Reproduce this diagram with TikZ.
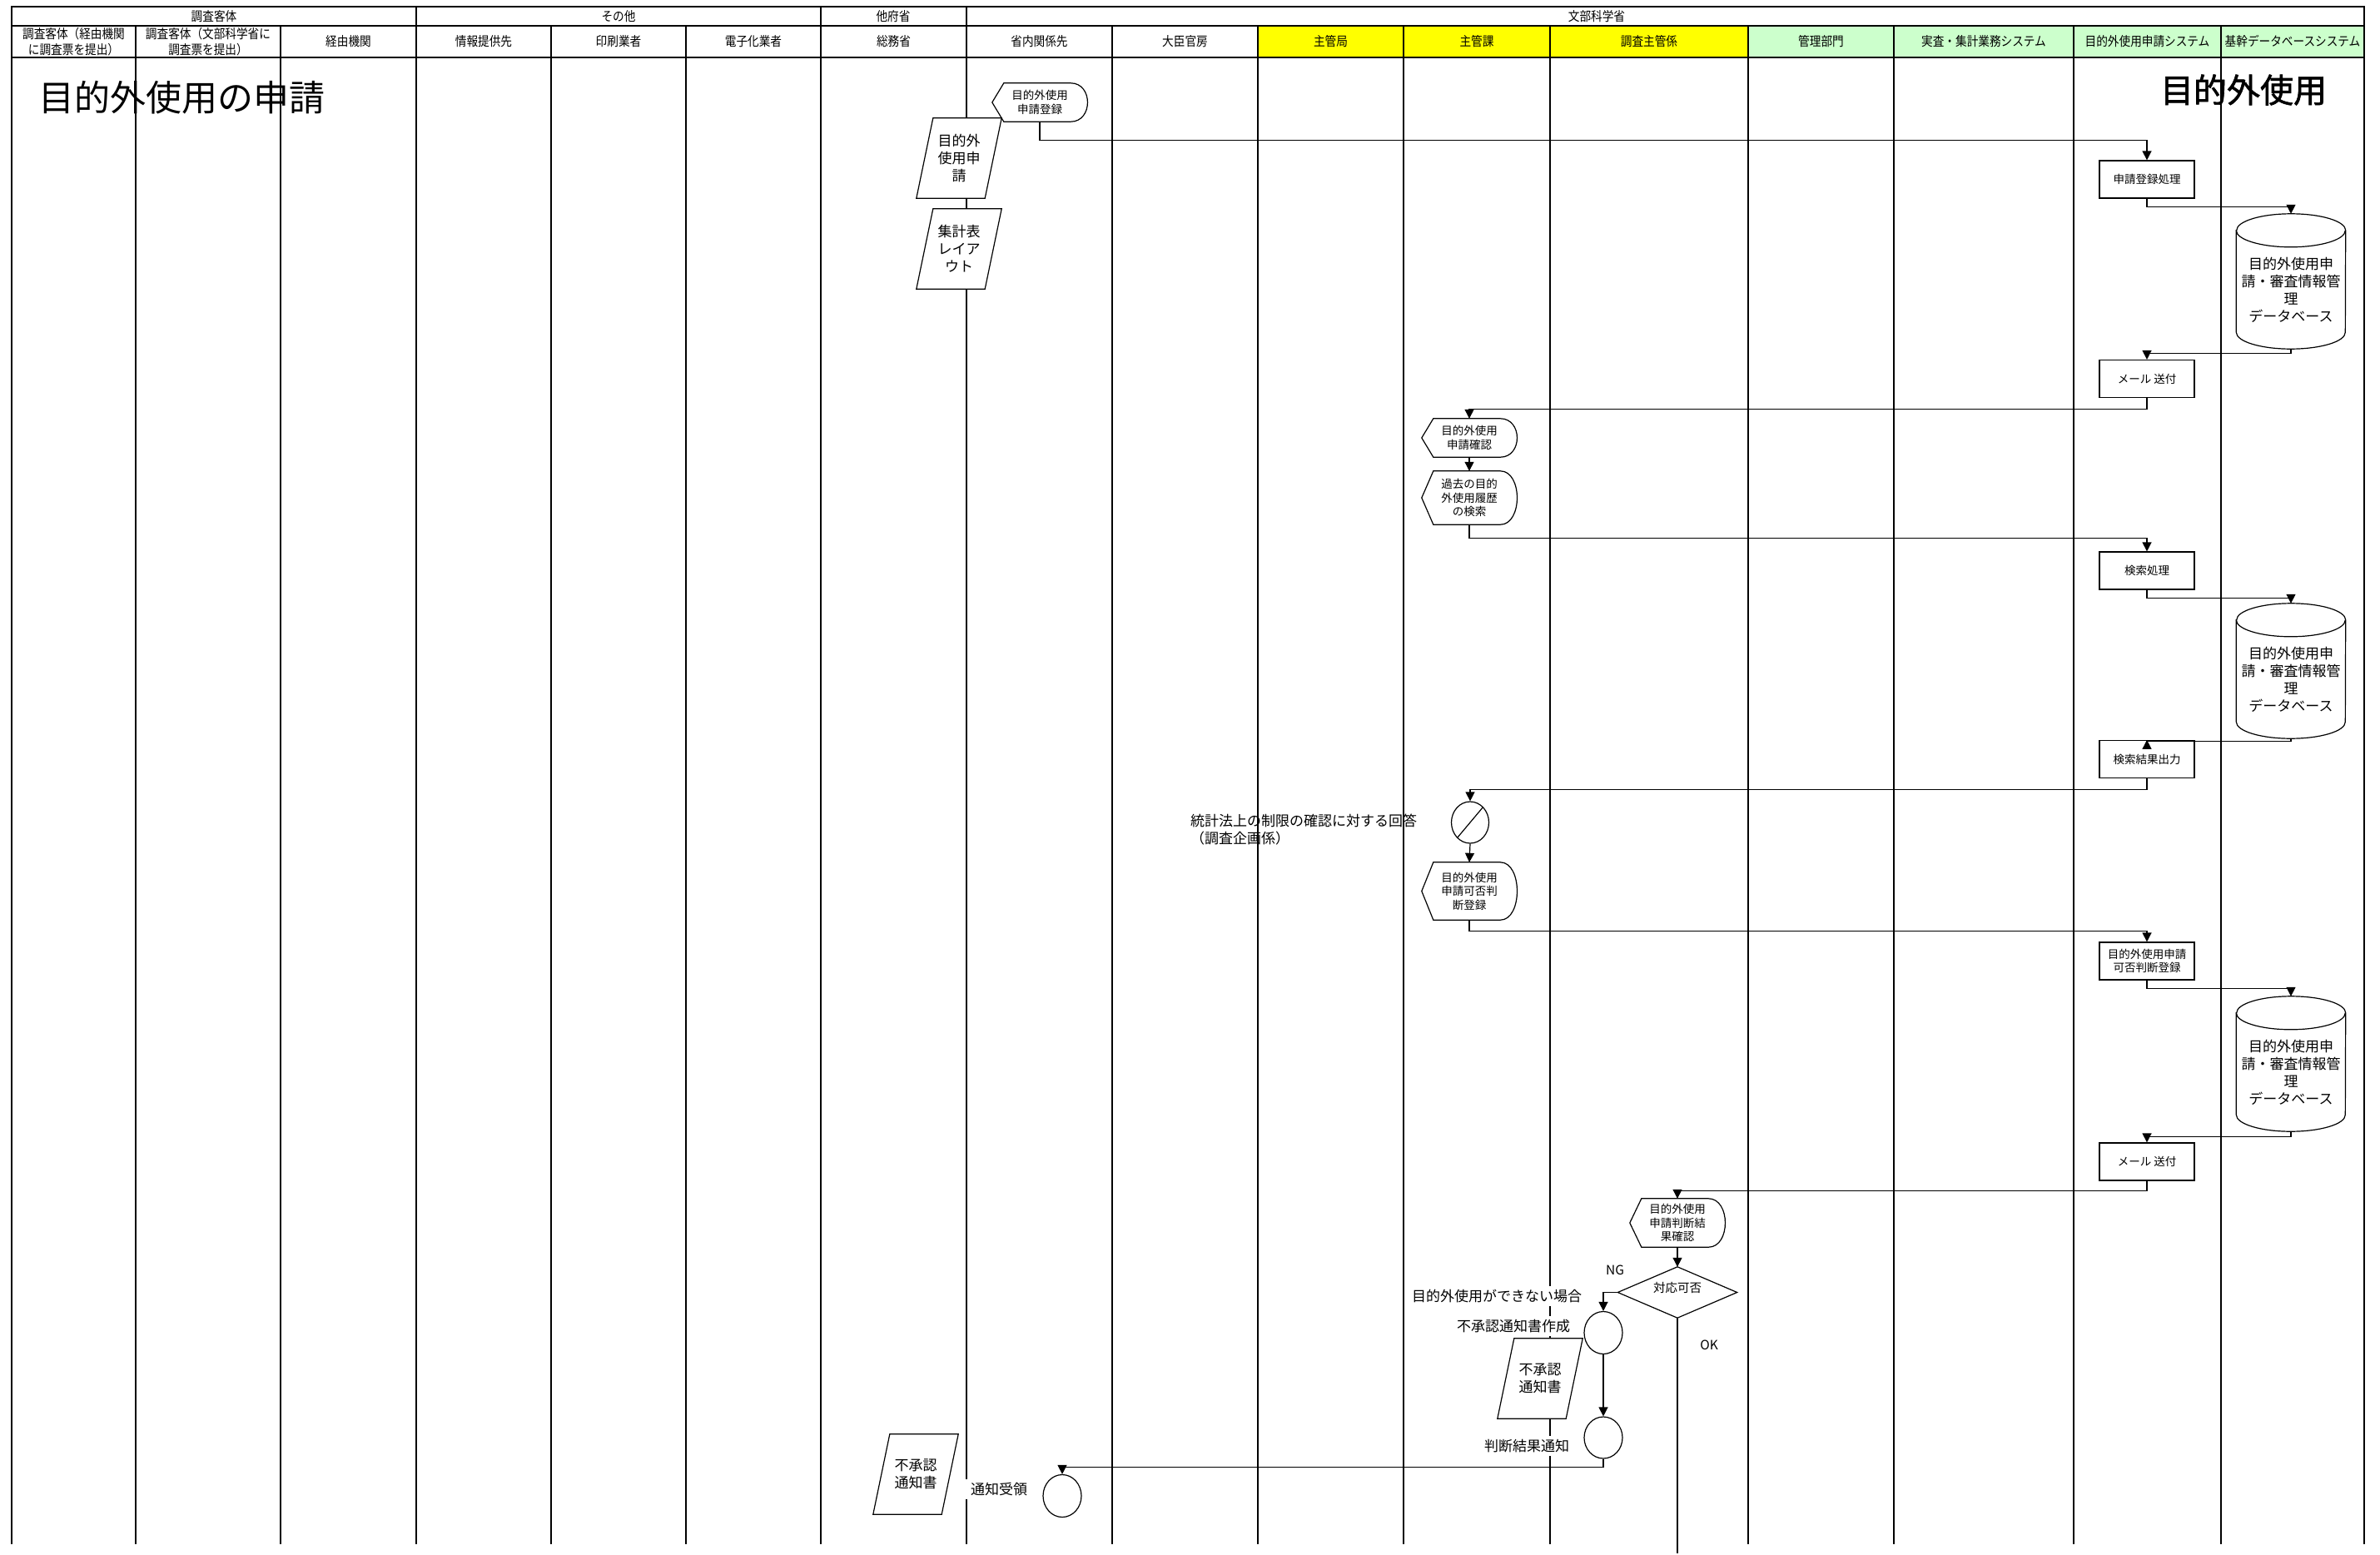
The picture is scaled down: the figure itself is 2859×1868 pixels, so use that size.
\documentclass[tikz,border=0pt]{standalone}
\usepackage{fontspec}
\setmainfont{Noto Sans CJK JP}
\newfontfamily\hfont[FakeStretch=0.88]{Noto Sans CJK JP}
\newfontfamily\tbfont[FakeBold=1.5]{Noto Sans CJK JP}
\usetikzlibrary{arrows.meta,shapes.geometric,calc}
\pgfdeclarelayer{lanes}
\pgfdeclarelayer{shapes}
\pgfsetlayers{lanes,shapes,main}
\definecolor{hdyellow}{HTML}{FFFF00}
\definecolor{hdgreen}{HTML}{CCFFCC}
\tikzset{
  lane/.style={line width=2.2pt, line cap=rect},
  shapeline/.style={line width=1.2pt, draw=black, fill=white},
  conn/.style={line width=1.2pt, -{Triangle[length=11pt,width=11pt]}},
  plain/.style={line width=1.2pt},
  sfont/.style={font=\fontsize{13.5}{16.5}\selectfont},
  mfont/.style={font=\fontsize{17}{21}\selectfont},
  hdtext/.style={font=\hfont\fontsize{15.5}{19}\selectfont, align=center, inner sep=0pt},
  txt/.style={align=center, inner sep=0pt},
  disp/.style={txt, sfont, minimum width=114pt},
  para/.style={txt, mfont, minimum width=102pt, minimum height=96pt},
  cyl/.style={txt, mfont, minimum width=131pt, minimum height=142pt},
  box/.style={draw, line width=1.2pt, fill=white, txt, sfont, minimum width=114pt, minimum height=45pt},
  term/.style={draw, ellipse, line width=1.2pt, fill=white, minimum width=46pt, minimum height=51pt, inner sep=0pt},
  lbl/.style={fill=white, inner xsep=8pt, inner ysep=4pt, mfont},
}
% display shape: name, position, height, text
\newcommand\dispnode[4]{%
  \node[disp, minimum height=#3] (#1) at #2 {#4};
  \begin{pgfonlayer}{shapes}
  \filldraw[shapeline] (#1.west) -- ([xshift=14pt]#1.north west) -- ([xshift=-20pt]#1.north east)
    .. controls ([xshift=7pt]#1.north east) and ([xshift=7pt]#1.south east) .. ([xshift=-20pt]#1.south east)
    -- ([xshift=14pt]#1.south west) -- cycle;
  \end{pgfonlayer}}
% parallelogram: name, position, text
\newcommand\paranode[3]{%
  \node[para] (#1) at #2 {#3};
  \begin{pgfonlayer}{shapes}
  \filldraw[shapeline] ([xshift=20pt]#1.north west) -- (#1.north east) -- ([xshift=-20pt]#1.south east) -- (#1.south west) -- cycle;
  \end{pgfonlayer}}
% cylinder: name, position, text
\newcommand\cylnode[3]{%
  \node[cyl] (#1) at #2 {#3};
  \coordinate (#1top) at ([yshift=20pt]#1.north);
  \begin{pgfonlayer}{shapes}
  \filldraw[shapeline] (#1.north west) -- ([yshift=20pt]#1.south west)
    arc[start angle=180, end angle=360, x radius=65.5pt, y radius=20pt]
    -- (#1.north east) arc[start angle=0, end angle=180, x radius=65.5pt, y radius=20pt] -- cycle;
  \draw[shapeline, fill=none] (#1.north west) arc[start angle=180, end angle=360, x radius=65.5pt, y radius=20pt];
  \end{pgfonlayer}}
\begin{document}
\begin{tikzpicture}[x=1pt, y=-1pt]
\useasboundingbox (0,0) rectangle (2859,1868);
\begin{pgfonlayer}{lanes}
  \fill[white] (0,0) rectangle (2859,1868);
  \fill[hdyellow] (1511,31) rectangle (2100,69);
  \fill[hdgreen] (2100,31) rectangle (2840,69);
  \draw[lane] (14,1854) -- (14,8) -- (2840,8) -- (2840,1854);
  \draw[lane] (14,31) -- (2840,31);
  \draw[lane] (14,69) -- (2840,69);
  \foreach \gx in {500,986,1161} \draw[lane] (\gx,8) -- (\gx,31);
  \foreach \cx in {163,337,500,662,824,986,1161,1336,1511,1686,1862,2100,2275,2491,2668}
    \draw[lane] (\cx,31) -- (\cx,1854);
\end{pgfonlayer}

% group headers
\node[hdtext] (g1) at (257,20) {調査客体};
\node[hdtext] (g2) at (743,20) {その他};
\node[hdtext] (g3) at (1073,20) {他府省};
\node[hdtext] (g4) at (1918,20) {文部科学省};
% lane headers
\node[hdtext] (h1) at (88.5,50) {調査客体（経由機関\\に調査票を提出）};
\node[hdtext] (h2) at (250,50) {調査客体（文部科学省に\\調査票を提出）};
\node[hdtext] (h3) at (418.5,50) {経由機関};
\node[hdtext] (h4) at (581,50) {情報提供先};
\node[hdtext] (h5) at (743,50) {印刷業者};
\node[hdtext] (h6) at (905,50) {電子化業者};
\node[hdtext] (h7) at (1073.5,50) {総務省};
\node[hdtext] (h8) at (1248.5,50) {省内関係先};
\node[hdtext] (h9) at (1423.5,50) {大臣官房};
\node[hdtext] (h10) at (1598.5,50) {主管局};
\node[hdtext] (h11) at (1774,50) {主管課};
\node[hdtext] (h12) at (1981,50) {調査主管係};
\node[hdtext] (h13) at (2187.5,50) {管理部門};
\node[hdtext] (h14) at (2383,50) {実査・集計業務システム};
\node[hdtext] (h15) at (2579.5,50) {目的外使用申請システム};
\node[hdtext] (h16) at (2754,50) {基幹データベースシステム};

% titles
\node[anchor=west, inner sep=0pt, font=\fontsize{43}{50}\selectfont] (t1) at (46,117) {目的外使用の申請};
\node[inner sep=0pt, font=\tbfont\fontsize{40}{48}\selectfont] (t2) at (2695,108) {目的外使用};

% nodes
\dispnode{d1}{(1249,123)}{46pt}{目的外使用\\申請登録}
\paranode{p1}{(1152,190)}{目的外\\使用申\\請}
\paranode{p2}{(1152,299)}{集計表\\レイア\\ウト}
\node[box] (b1) at (2579,215.5) {申請登録処理};
\cylnode{db1}{(2752,348)}{目的外使用申\\請・審査情報管\\理\\データベース}
\node[box] (m1) at (2579,455) {メール 送付};
\dispnode{d2}{(1765,526)}{46pt}{目的外使用\\申請確認}
\dispnode{d3}{(1765,598)}{64pt}{過去の目的\\外使用履歴\\の検索}
\node[box] (b2) at (2579,685.5) {検索処理};
\cylnode{db2}{(2752,816)}{目的外使用申\\請・審査情報管\\理\\データベース}
\node[box] (b3) at (2579,912) {検索結果出力};
\node[term, minimum width=45pt, minimum height=50pt] (cs) at (1766,988) {};
\draw[plain] (cs.230) -- (cs.50);
\node[mfont, align=left, anchor=west, inner sep=0pt] (lb5) at (1430,997) {統計法上の制限の確認に対する回答\\（調査企画係）};
\dispnode{d5}{(1765,1070.5)}{69pt}{目的外使用\\申請可否判\\断登録}
\node[box] (b4) at (2579,1154.5) {目的外使用申請\\可否判断登録};
\cylnode{db3}{(2752,1288)}{目的外使用申\\請・審査情報管\\理\\データベース}
\node[box] (m2) at (2579,1395.5) {メール 送付};
\dispnode{d6}{(2015,1469)}{58pt}{目的外使用\\申請判断結\\果確認}
\node[txt, minimum width=143pt, minimum height=61pt] (dia) at (2015,1552.5) {};
\begin{pgfonlayer}{shapes}
  \filldraw[shapeline] (dia.north) -- (dia.east) -- (dia.south) -- (dia.west) -- cycle;
\end{pgfonlayer}
\node[txt, font=\fontsize{14.5}{17}\selectfont] (diatext) at (2015,1547) {対応可否};
\node[font=\fontsize{15.5}{18}\selectfont, inner sep=0pt] (ng) at (1940,1526) {NG};
\node[font=\fontsize{15.5}{18}\selectfont, inner sep=0pt] (ok) at (2053,1616) {OK};
\node[term] (c2) at (1926,1601) {};
\node[term, minimum height=50pt] (c3) at (1926,1727) {};
\node[term] (c4) at (1276,1797) {};
\paranode{p3}{(1850,1656)}{不承認\\通知書}
\paranode{p4}{(1100,1771)}{不承認\\通知書}
\node[lbl] (lb1) at (1798,1557) {目的外使用ができない場合};
\node[lbl] (lb2) at (1818,1593) {不承認通知書作成};
\node[lbl] (lb3) at (1834,1737) {判断結果通知};
\node[lbl] (lb4) at (1200,1789) {通知受領};
\coordinate (okend) at (2015,1866);

% connectors
\draw[conn] (d1.south) -- ++(0,22) -| (b1.north);
\draw[conn] (b1.south) -- ++(0,10) -| (db1top);
\draw[conn] (db1.south) -- ++(0,5) -| (m1.north);
\draw[conn] (m1.south) -- ++(0,13) -| (d2.north);
\draw[conn] (d2.south) -- (d3.north);
\draw[conn] (d3.south) -- ++(0,16) -| (b2.north);
\draw[conn] (b2.south) -- ++(0,10) -| (db2top);
\draw[conn] (db2.south) -- ++(0,3) -| (b3.north);
\draw[conn] (b3.south) -- ++(0,13) -| (cs.north);
\draw[conn] (cs.south) -- (d5.north);
\draw[conn] (d5.south) -- ++(0,13) -| (b4.north);
\draw[conn] (b4.south) -- ++(0,10) -| (db3top);
\draw[conn] (db3.south) -- ++(0,6) -| (m2.north);
\draw[conn] (m2.south) -- ++(0,12) -| (d6.north);
\draw[conn] (d6.south) -- (dia.north);
\draw[conn] (dia.west) -| (c2.north);
\draw[conn] (c2.south) -- (c3.north);
\draw[conn] (c3.south) -- ++(0,10) -| (c4.north);
\draw[plain] (dia.south) -- (okend);
\end{tikzpicture}
\end{document}
